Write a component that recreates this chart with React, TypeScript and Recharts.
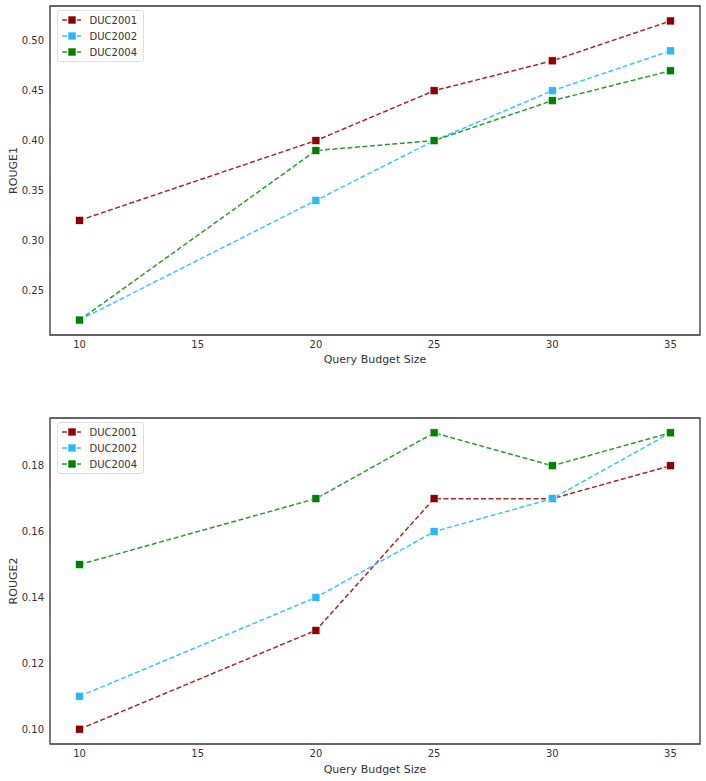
import { LineChart, Line, XAxis, YAxis, ReferenceArea } from "recharts";

const budgets = [10, 20, 25, 30, 35];
const xTicks = [10, 15, 20, 25, 30, 35];

const rouge1Duc2001 = [0.32, 0.40, 0.45, 0.48, 0.52];
const rouge1Duc2002 = [0.22, 0.34, 0.40, 0.45, 0.49];
const rouge1Duc2004 = [0.22, 0.39, 0.40, 0.44, 0.47];
const rouge1Ticks = [0.25, 0.30, 0.35, 0.40, 0.45, 0.50];

const rouge2Duc2001 = [0.10, 0.13, 0.17, 0.17, 0.18];
const rouge2Duc2002 = [0.11, 0.14, 0.16, 0.17, 0.19];
const rouge2Duc2004 = [0.15, 0.17, 0.19, 0.18, 0.19];
const rouge2Ticks = [0.10, 0.12, 0.14, 0.16, 0.18];

const seriesStyle = [
  { key: "DUC2001", line: "#a52a2a", marker: "#8b0000" },
  { key: "DUC2002", line: "#3cc4ff", marker: "#2cb8f8" },
  { key: "DUC2004", line: "#2f9a2f", marker: "#007f00" },
];

const font = "DejaVu Sans, sans-serif";
const textColor = "#333";
const X_DOMAIN: [number, number] = [8.75, 36.25];

function buildRows(a: number[], b: number[], c: number[]) {
  return budgets.map((x, i) => ({ x, DUC2001: a[i], DUC2002: b[i], DUC2004: c[i] }));
}

function squareDot(color: string) {
  return (props: any) => {
    const { cx, cy, index } = props;
    return (
      <rect
        key={index}
        x={cx - 4}
        y={cy - 4}
        width={8}
        height={8}
        fill={color}
        stroke="#fff"
        strokeWidth={0.6}
      />
    );
  };
}

// legend drawn as an overlay so it doesn't steal plot space
function LegendBox({ top }: { top: number }) {
  return (
    <div
      style={{
        position: "absolute",
        left: 57,
        top,
        border: "1px solid #ddd",
        borderRadius: 3,
        background: "rgba(255,255,255,0.85)",
        padding: "1px 6px 1px 3px",
        fontFamily: font,
        fontSize: 10,
        color: textColor,
        width: 76,
      }}
    >
      {seriesStyle.map((s) => (
        <div key={s.key} style={{ display: "flex", alignItems: "center", height: 16 }}>
          <svg width={22} height={10} style={{ marginRight: 9 }}>
            <line x1={1} y1={5} x2={21} y2={5} stroke={s.line} strokeWidth={1.5} strokeDasharray="5 2.5" />
            <rect x={7} y={1} width={8} height={8} fill={s.marker} stroke="#fff" strokeWidth={0.6} />
          </svg>
          <span>{s.key}</span>
        </div>
      ))}
    </div>
  );
}

type PanelProps = {
  rows: any[];
  yLabel: string;
  yDomain: [number, number];
  yTicks: number[];
  height: number;
  top: number;
  bottom: number;
  labelOffset: number;
};

function Panel({ rows, yLabel, yDomain, yTicks, height, top, bottom, labelOffset }: PanelProps) {
  return (
    <LineChart width={706} height={height} data={rows} margin={{ top, right: 6, bottom, left: 8 }}>
      <XAxis
        dataKey="x"
        type="number"
        domain={X_DOMAIN}
        ticks={xTicks}
        allowDataOverflow
        axisLine={false}
        tickLine={false}
        tickSize={4}
        height={36}
        tick={{ fontSize: 10, fill: textColor, fontFamily: font }}
        label={{
          value: "Query Budget Size",
          position: "insideBottom",
          offset: labelOffset,
          style: { fontSize: 11, fill: textColor, fontFamily: font },
        }}
      />
      <YAxis
        type="number"
        domain={yDomain}
        ticks={yTicks}
        allowDataOverflow
        axisLine={false}
        tickLine={false}
        tickSize={4}
        width={42}
        tickFormatter={(v: number) => v.toFixed(2)}
        tick={{ fontSize: 10, fill: textColor, fontFamily: font }}
        label={{
          value: yLabel,
          angle: -90,
          position: "insideLeft",
          offset: 5,
          style: { fontSize: 11, fill: textColor, fontFamily: font, textAnchor: "middle" },
        }}
      />
      <ReferenceArea
        x1={X_DOMAIN[0]}
        x2={X_DOMAIN[1]}
        y1={yDomain[0]}
        y2={yDomain[1]}
        fill="none"
        stroke="#333"
        strokeWidth={1.3}
        ifOverflow="visible"
      />
      {seriesStyle.map((s) => (
        <Line
          key={s.key}
          dataKey={s.key}
          stroke={s.line}
          strokeWidth={1.5}
          strokeDasharray="5 2.5"
          dot={squareDot(s.marker)}
          activeDot={false}
          isAnimationActive={false}
        />
      ))}
    </LineChart>
  );
}

export default function App() {
  return (
    <div style={{ position: "absolute", left: 0, top: 0, width: 706, height: 781, background: "#fff" }}>
      <Panel
        rows={buildRows(rouge1Duc2001, rouge1Duc2002, rouge1Duc2004)}
        yLabel="ROUGE1"
        yDomain={[0.205, 0.535]}
        yTicks={rouge1Ticks}
        height={380}
        top={6}
        bottom={9}
        labelOffset={8}
      />
      <Panel
        rows={buildRows(rouge2Duc2001, rouge2Duc2002, rouge2Duc2004)}
        yLabel="ROUGE2"
        yDomain={[0.0955, 0.1945]}
        yTicks={rouge2Ticks}
        height={401}
        top={38}
        bottom={1}
        labelOffset={7}
      />
      <LegendBox top={10} />
      <LegendBox top={422} />
    </div>
  );
}
